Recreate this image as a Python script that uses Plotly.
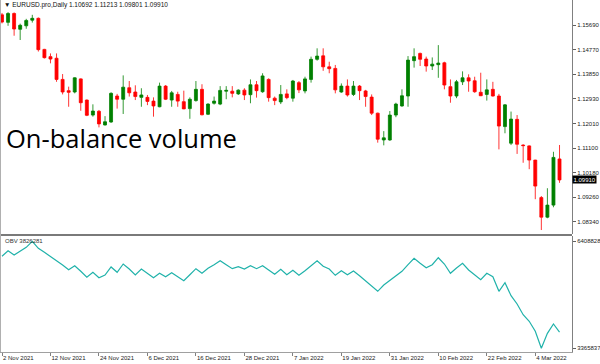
import plotly.graph_objects as go

# ---------------- data ----------------
dates = [
    "2021-11-02", "2021-11-03", "2021-11-04", "2021-11-05", "2021-11-08", "2021-11-09", "2021-11-10",
    "2021-11-11", "2021-11-12", "2021-11-15", "2021-11-16", "2021-11-17", "2021-11-18", "2021-11-19",
    "2021-11-22", "2021-11-23", "2021-11-24", "2021-11-25", "2021-11-26", "2021-11-29", "2021-11-30",
    "2021-12-01", "2021-12-02", "2021-12-03", "2021-12-06", "2021-12-07", "2021-12-08", "2021-12-09",
    "2021-12-10", "2021-12-13", "2021-12-14", "2021-12-15", "2021-12-16", "2021-12-17", "2021-12-20",
    "2021-12-21", "2021-12-22", "2021-12-23", "2021-12-24", "2021-12-27", "2021-12-28", "2021-12-29",
    "2021-12-30", "2021-12-31", "2022-01-03", "2022-01-04", "2022-01-05", "2022-01-06", "2022-01-07",
    "2022-01-10", "2022-01-11", "2022-01-12", "2022-01-13", "2022-01-14", "2022-01-17", "2022-01-18",
    "2022-01-19", "2022-01-20", "2022-01-21", "2022-01-24", "2022-01-25", "2022-01-26", "2022-01-27",
    "2022-01-28", "2022-01-31", "2022-02-01", "2022-02-02", "2022-02-03", "2022-02-04", "2022-02-07",
    "2022-02-08", "2022-02-09", "2022-02-10", "2022-02-11", "2022-02-14", "2022-02-15", "2022-02-16",
    "2022-02-17", "2022-02-18", "2022-02-21", "2022-02-22", "2022-02-23", "2022-02-24", "2022-02-25",
    "2022-02-28", "2022-03-01", "2022-03-02", "2022-03-03", "2022-03-04", "2022-03-07", "2022-03-08",
    "2022-03-09", "2022-03-10",
]

opens = [
    1.1607, 1.1579, 1.1612, 1.1553, 1.1566, 1.1587, 1.1594, 1.1478, 1.1451, 1.1445,
    1.1366, 1.1324, 1.1319, 1.1368, 1.1289, 1.1233, 1.1247, 1.1196, 1.1207, 1.1304,
    1.1292, 1.1335, 1.1319, 1.1299, 1.1299, 1.1285, 1.1264, 1.1341, 1.1289, 1.1310,
    1.1283, 1.1257, 1.1287, 1.1329, 1.1236, 1.1277, 1.1274, 1.1322, 1.1322, 1.1312,
    1.1326, 1.1309, 1.1346, 1.1320, 1.1366, 1.1296, 1.1282, 1.1312, 1.1296, 1.1354,
    1.1323, 1.1366, 1.1441, 1.1454, 1.1413, 1.1407, 1.1319, 1.1341, 1.1310, 1.1341,
    1.1323, 1.1300, 1.1240, 1.1140, 1.1140, 1.1233, 1.1267, 1.1304, 1.1436, 1.1463,
    1.1442, 1.1416, 1.1421, 1.1428, 1.1339, 1.1304, 1.1357, 1.1372, 1.1361, 1.1318,
    1.1310, 1.1329, 1.1304, 1.1190, 1.1128, 1.1217, 1.1121, 1.1118, 1.1065, 1.0925,
    1.0852, 1.0897, 1.10692,
]
highs = [
    1.1614, 1.1617, 1.1616, 1.1574, 1.1592, 1.1607, 1.1597, 1.1480, 1.1463, 1.1463,
    1.1386, 1.1339, 1.1374, 1.1370, 1.1291, 1.1273, 1.1252, 1.1229, 1.1318, 1.1312,
    1.1381, 1.1360, 1.1344, 1.1333, 1.1308, 1.1299, 1.1354, 1.1345, 1.1323, 1.1320,
    1.1324, 1.1299, 1.1360, 1.1348, 1.1277, 1.1302, 1.1341, 1.1341, 1.1341, 1.1329,
    1.1333, 1.1366, 1.1360, 1.1389, 1.1370, 1.1302, 1.1345, 1.1329, 1.1364, 1.1360,
    1.1376, 1.1451, 1.1482, 1.1482, 1.1432, 1.1420, 1.1351, 1.1366, 1.1360, 1.1345,
    1.1327, 1.1310, 1.1242, 1.1173, 1.1248, 1.1279, 1.1329, 1.1453, 1.1482, 1.1466,
    1.1451, 1.1448, 1.1494, 1.1432, 1.1366, 1.1364, 1.1396, 1.1385, 1.1376, 1.1391,
    1.1366, 1.1357, 1.1312, 1.1274, 1.1246, 1.1233, 1.1124, 1.1120, 1.1066, 1.0931,
    1.0960, 1.1096, 1.11213,
]
lows = [
    1.1575, 1.1566, 1.1529, 1.1513, 1.1555, 1.1578, 1.1470, 1.1444, 1.1426, 1.1357,
    1.1310, 1.1264, 1.1314, 1.1249, 1.1229, 1.1227, 1.1187, 1.1194, 1.1204, 1.1257,
    1.1237, 1.1302, 1.1289, 1.1264, 1.1270, 1.1227, 1.1262, 1.1289, 1.1264, 1.1264,
    1.1255, 1.1219, 1.1283, 1.1232, 1.1233, 1.1272, 1.1270, 1.1292, 1.1299, 1.1308,
    1.1289, 1.1277, 1.1298, 1.1316, 1.1283, 1.1270, 1.1274, 1.1292, 1.1283, 1.1315,
    1.1314, 1.1354, 1.1436, 1.1398, 1.1389, 1.1314, 1.1316, 1.1302, 1.1304, 1.1289,
    1.1264, 1.1233, 1.1130, 1.1120, 1.1137, 1.1225, 1.1264, 1.1264, 1.1410, 1.1416,
    1.1395, 1.1401, 1.1372, 1.1329, 1.1279, 1.1296, 1.1345, 1.1320, 1.1316, 1.1304,
    1.1287, 1.1302, 1.1105, 1.1165, 1.1121, 1.1088, 1.1055, 1.1031, 1.0919, 1.0804,
    1.0848, 1.0889, 1.09801,
]
closes = [
    1.1580, 1.1612, 1.1554, 1.1568, 1.1586, 1.1594, 1.1477, 1.1447, 1.1442, 1.1366,
    1.1319, 1.1318, 1.1372, 1.1279, 1.1232, 1.1248, 1.1200, 1.1208, 1.1314, 1.1292,
    1.1337, 1.1316, 1.1302, 1.1308, 1.1284, 1.1267, 1.1341, 1.1292, 1.1316, 1.1285,
    1.1256, 1.1292, 1.1329, 1.1234, 1.1274, 1.1285, 1.1325, 1.1325, 1.1314, 1.1326,
    1.1308, 1.1346, 1.1324, 1.1379, 1.1298, 1.1287, 1.1310, 1.1298, 1.1360, 1.1327,
    1.1368, 1.1441, 1.1453, 1.1413, 1.1406, 1.1327, 1.1341, 1.1308, 1.1341, 1.1324,
    1.1302, 1.1240, 1.1143, 1.1148, 1.1233, 1.1274, 1.1305, 1.1438, 1.1451, 1.1441,
    1.1416, 1.1423, 1.1427, 1.1345, 1.1304, 1.1357, 1.1372, 1.1360, 1.1320, 1.1305,
    1.1327, 1.1304, 1.1192, 1.1271, 1.1218, 1.1124, 1.1119, 1.1065, 1.0968, 1.0852,
    1.0897, 1.1075, 1.09910,
]

obv = [
    5982000, 6141000, 6019000, 6141000, 6238000, 6408828, 6210000, 6096000, 5982000, 5857000,
    5735000, 5601000, 5715000, 5556000, 5385000, 5527000, 5374000, 5450000, 5678000, 5527000,
    5763000, 5621000, 5450000, 5621000, 5499000, 5374000, 5499000, 5402000, 5516000, 5402000,
    5288000, 5459000, 5630000, 5499000, 5641000, 5743000, 5857000, 5743000, 5630000, 5686000,
    5621000, 5715000, 5630000, 5715000, 5593000, 5470000, 5613000, 5459000, 5584000, 5442000,
    5573000, 5715000, 5857000, 5698000, 5621000, 5442000, 5573000, 5459000, 5564000, 5431000,
    5288000, 5138000, 4987000, 5166000, 5288000, 5413000, 5556000, 5743000, 5925000, 5783000,
    5658000, 5743000, 5942000, 5763000, 5499000, 5650000, 5783000, 5593000, 5459000, 5317000,
    5499000, 5402000, 4987000, 5231000, 4862000, 4626000, 4321000, 4134000, 3849000, 3365837,
    3792000, 4057000, 3826281,
]

x_tick_dates = ["2021-11-02", "2021-11-12", "2021-11-24", "2021-12-06", "2021-12-16", "2021-12-28",
                "2022-01-07", "2022-01-19", "2022-01-31", "2022-02-10", "2022-02-22", "2022-03-04"]
x_tick_labels = ["2 Nov 2021", "12 Nov 2021", "24 Nov 2021", "6 Dec 2021", "16 Dec 2021", "28 Dec 2021",
                 "7 Jan 2022", "19 Jan 2022", "31 Jan 2022", "10 Feb 2022", "22 Feb 2022", "4 Mar 2022"]
price_ticks = [1.08340, 1.09260, 1.10180, 1.11100, 1.12010, 1.12930, 1.13850, 1.14770, 1.15690]
obv_ticks = [3365837, 6408828]
symbol = "EURUSD.pro,Daily"
indicator_title = "On-balance volume"

# ---------------- layout helpers ----------------
W, H = 600, 364
px_x = lambda p: p / W
px_y = lambda p: 1 - p / H
plot_right = px_x(572)

FONT = "Liberation Sans"
tick_font = dict(family=FONT, size=6, color="#222222")

fig = go.Figure()
fig.add_trace(go.Candlestick(
    x=dates, open=opens, high=highs, low=lows, close=closes,
    increasing=dict(line=dict(color="#008000", width=0.8), fillcolor="#008000"),
    decreasing=dict(line=dict(color="#ff0000", width=0.8), fillcolor="#ff0000"),
    showlegend=False, xaxis="x", yaxis="y",
))
fig.add_trace(go.Scatter(
    x=dates, y=obv, mode="lines",
    line=dict(color="#20B2AA", width=1.2),
    showlegend=False, xaxis="x", yaxis="y2",
))

fig.update_layout(
    width=W, height=H, autosize=False,
    margin=dict(l=0, r=0, t=0, b=0),
    paper_bgcolor="white", plot_bgcolor="white",
    showlegend=False,
    xaxis=dict(
        type="category", categoryorder="array", categoryarray=dates,
        domain=[0, plot_right], anchor="y2",
        range=[-0.33, 94.06],
        tickmode="array", tickvals=x_tick_dates, ticktext=x_tick_labels,
        ticks="outside", ticklen=3, tickcolor="#808080",
        ticklabelposition="outside right",
        tickfont=tick_font,
        showline=True, linecolor="#a0a0a0", linewidth=1,
        showgrid=False, zeroline=False,
        rangeslider=dict(visible=False),
    ),
    yaxis=dict(
        domain=[px_y(234), 1], anchor="x", side="right",
        range=[1.07892, 1.16623],
        tickmode="array", tickvals=price_ticks,
        ticktext=[f"{v:.5f}" for v in price_ticks],
        ticks="outside", ticklen=3, tickcolor="#606060",
        tickfont=tick_font,
        showline=True, linecolor="#808080", linewidth=1,
        showgrid=False, zeroline=False,
    ),
    yaxis2=dict(
        domain=[px_y(352), px_y(236)], anchor="x", side="right",
        range=[3260613, 6559555],
        tickmode="array", tickvals=obv_ticks,
        ticktext=[str(v) for v in obv_ticks],
        ticks="outside", ticklen=3, tickcolor="#606060",
        tickfont=tick_font,
        showline=True, linecolor="#808080", linewidth=1,
        showgrid=False, zeroline=False,
    ),
)

# panel separator and window borders
fig.add_shape(type="line", xref="paper", yref="paper",
              x0=0, x1=plot_right, y0=px_y(235), y1=px_y(235),
              line=dict(color="#7a7a7a", width=2))
fig.add_shape(type="line", xref="paper", yref="paper",
              x0=px_x(0.5), x1=px_x(0.5), y0=px_y(352), y1=1,
              line=dict(color="#b0b0b0", width=1))

# header
fig.add_annotation(
    xref="paper", yref="paper", x=px_x(2), y=px_y(5.5), xanchor="left", yanchor="middle",
    text=f"▼ {symbol} {opens[-1]:.5f} {highs[-1]:.5f} {lows[-1]:.5f} {closes[-1]:.5f}",
    showarrow=False, font=dict(family=FONT, size=6.5, color="#111111"),
)
# big title
fig.add_annotation(
    xref="paper", yref="paper", x=px_x(4), y=px_y(138), xanchor="left", yanchor="middle",
    text=indicator_title, showarrow=False,
    font=dict(family="Open Sans", size=25.5, color="#000000"),
)
# OBV label
fig.add_annotation(
    xref="paper", yref="paper", x=px_x(3), y=px_y(241), xanchor="left", yanchor="middle",
    text=f"OBV {obv[-1]}", showarrow=False,
    font=dict(family=FONT, size=6, color="#333333"),
)
# current price marker
fig.add_annotation(
    xref="paper", yref="y", x=plot_right, y=closes[-1], xanchor="left", yanchor="middle",
    text=f"{closes[-1]:.5f}", showarrow=False, bgcolor="#000000", borderpad=0.5,
    font=dict(family=FONT, size=6, color="#ffffff"),
)

fig.write_html(
    "out.html",
    config={"displayModeBar": False},
    post_script="document.body.style.margin='0px';document.body.style.overflow='hidden';",
)
